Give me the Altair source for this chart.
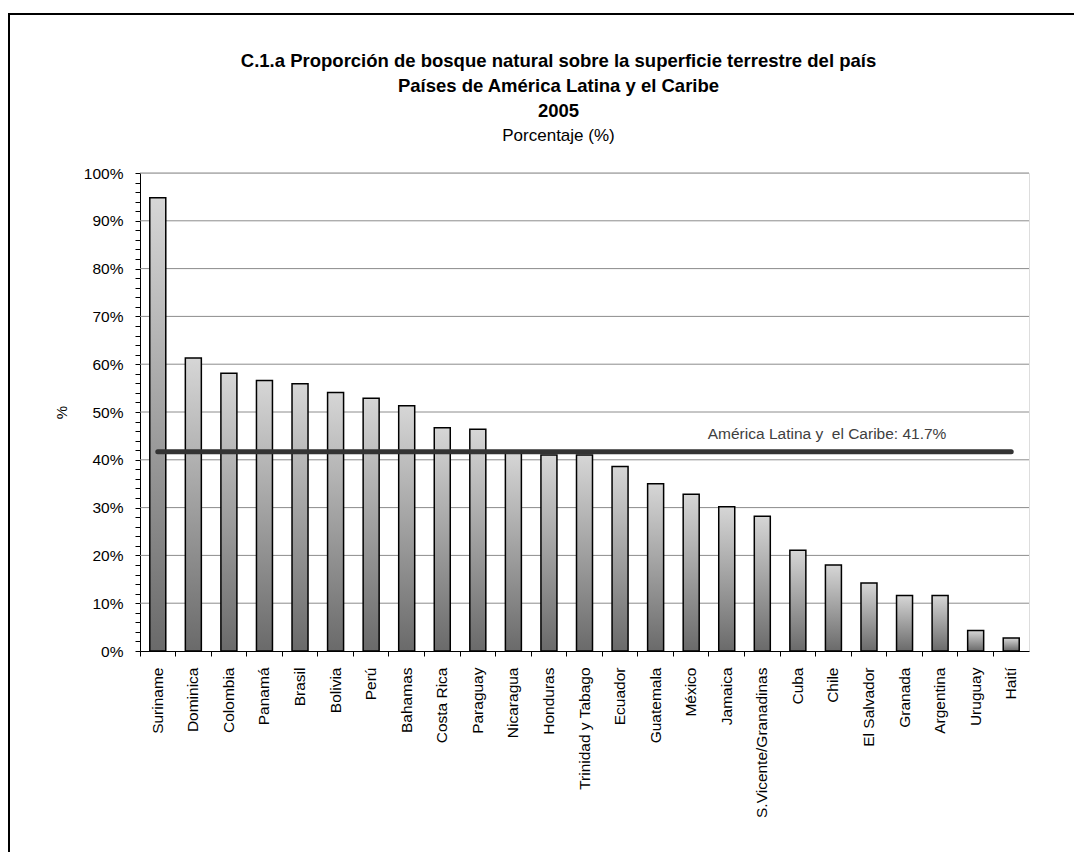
import altair as alt
import pandas as pd

COUNTRIES = ["Suriname", "Dominica", "Colombia", "Panamá", "Brasil", "Bolivia", "Perú",
             "Bahamas", "Costa Rica", "Paraguay", "Nicaragua", "Honduras",
             "Trinidad y Tabago", "Ecuador", "Guatemala", "México", "Jamaica",
             "S.Vicente/Granadinas", "Cuba", "Chile", "El Salvador", "Granada",
             "Argentina", "Uruguay", "Haití"]
FOREST_PCT = [94.8, 61.3, 58.1, 56.6, 55.9, 54.1, 52.9, 51.3, 46.7, 46.4, 41.6, 41.0,
              41.0, 38.6, 35.0, 32.8, 30.2, 28.2, 21.1, 18.0, 14.2, 11.6, 11.6, 4.3, 2.7]
REGION_AVG = 41.7
REGION_LABEL = "América Latina y\u00a0 el Caribe: 41.7%"
LABEL_ANCHOR = "Jamaica"
Y_TICKS = list(range(0, 101, 2))
GRID_VALUES = list(range(10, 101, 10))
TITLE_LINES = ["C.1.a Proporción de bosque natural sobre la superficie terrestre del país",
               "Países de América Latina y el Caribe",
               "2005"]
SUBTITLE = "Porcentaje (%)"

FONT = "Liberation Sans"

df = pd.DataFrame({"pais": COUNTRIES, "valor": FOREST_PCT,
                   "promedio": [REGION_AVG] * len(COUNTRIES)})
grid_df = pd.DataFrame({"valor": GRID_VALUES})
label_df = pd.DataFrame({"pais": [LABEL_ANCHOR], "valor": [REGION_AVG], "t": [REGION_LABEL]})


def x_axis():
    return alt.Axis(labelAngle=270, labelFontSize=15.5, labelFont=FONT,
                    labelColor="black", labelPadding=11, tickSize=5,
                    bandPosition=0, domainColor="black", tickColor="black",
                    labelAlign="right", labelBaseline="middle", labelOverlap=False)


def y_axis():
    return alt.Axis(values=Y_TICKS,
                    labelExpr="datum.value % 10 == 0 ? datum.value + '%' : ''",
                    labelOverlap=False, labelFlush=False,
                    grid=False, tickSize=5, labelFontSize=15.5, labelFont=FONT,
                    labelColor="black", labelPadding=12, domainColor="black",
                    tickColor="black", title="%", titleFont=FONT,
                    titleFontSize=15, titleFontWeight="normal",
                    titleColor="black", titlePadding=14)


def x_enc():
    return alt.X("pais:N", sort=COUNTRIES, title=None,
                 scale=alt.Scale(paddingInner=0, paddingOuter=0), axis=x_axis())


def y_enc(field):
    return alt.Y(field, scale=alt.Scale(domain=[0, 100], nice=False), axis=y_axis())


grid = alt.Chart(grid_df).mark_rule(color="#8c8c8c", strokeWidth=1).encode(
    y=y_enc("valor:Q"))

bars = alt.Chart(df).mark_bar(
    size=16, stroke="black", strokeWidth=1.5,
    color=alt.Gradient(gradient="linear",
                       stops=[alt.GradientStop(color="#d6d6d6", offset=0),
                              alt.GradientStop(color="#6a6a6a", offset=1)],
                       x1=0, x2=0, y1=0, y2=1)
).encode(x=x_enc(), y=y_enc("valor:Q"))

avg_line = alt.Chart(df).mark_line(color="#333333", strokeWidth=5, strokeCap="round").encode(
    x=x_enc(), y=y_enc("promedio:Q"))

avg_text = alt.Chart(label_df).mark_text(
    align="left", baseline="middle", dx=-19, dy=-18, fontSize=15.5, font=FONT, color="#404040"
).encode(x=x_enc(), y=y_enc("valor:Q"), text="t:N")

border_left = alt.Chart(alt.Data(values=[{}])).mark_rule(color="black", strokeWidth=2).encode(
    x=alt.value(-131), y=alt.value(-159), y2=alt.value(700))
border_top = alt.Chart(alt.Data(values=[{}])).mark_rule(color="black", strokeWidth=2).encode(
    x=alt.value(-132), x2=alt.value(940), y=alt.value(-159))

chart = alt.layer(grid, bars, avg_line, avg_text, border_left, border_top).properties(
    width=889, height=478,
    autosize=alt.AutoSizeParams(type="none"),
    padding={"left": 140, "top": 173, "right": 45, "bottom": 201},
    title=alt.TitleParams(text=TITLE_LINES, subtitle=SUBTITLE, font=FONT, fontSize=18.5,
                          fontWeight="bold", color="black", lineHeight=25,
                          subtitleFont=FONT, subtitleFontSize=17, subtitleColor="black",
                          subtitlePadding=8, anchor="middle", dx=-26, offset=-131)
).configure_view(stroke=None).configure_axis(labelOverlap=False).configure(background="white")

chart.save("out.html", embed_options={"renderer": "svg", "actions": False})
